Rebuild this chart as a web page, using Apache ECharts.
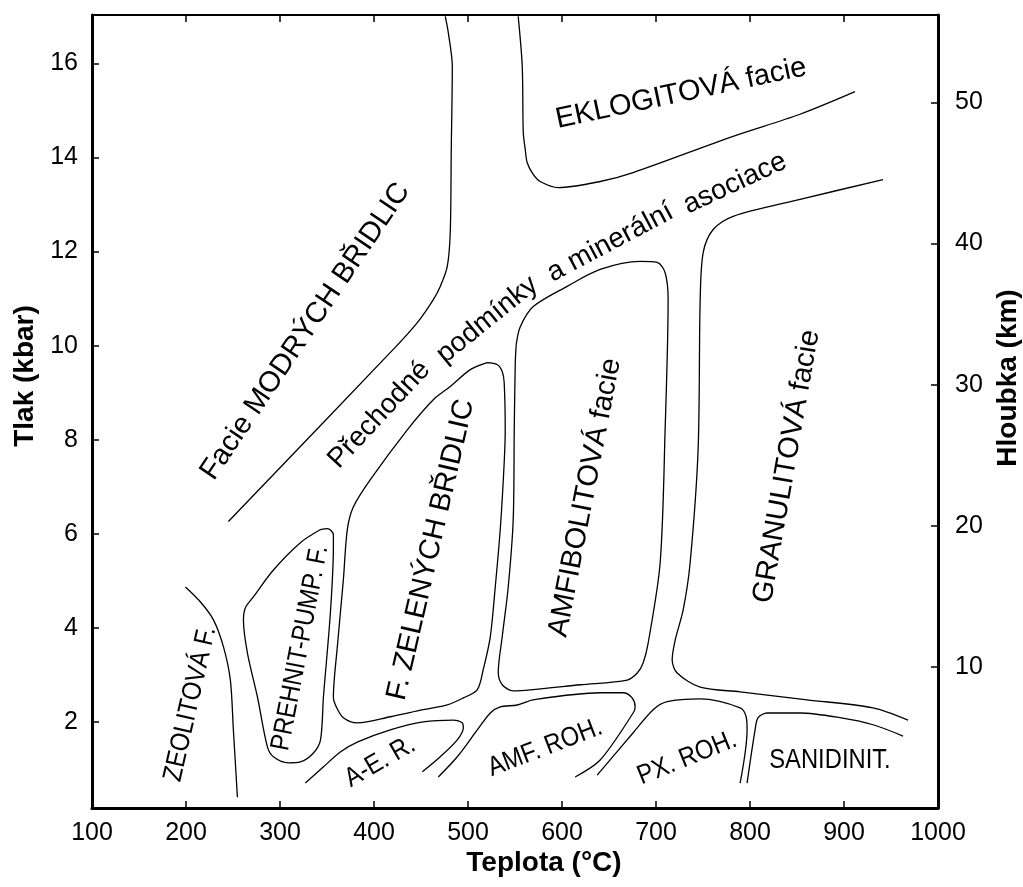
<!DOCTYPE html>
<html>
<head>
<meta charset="utf-8">
<script src="https://cdn.jsdelivr.net/npm/echarts@6/dist/echarts.min.js"></script>
<style>html,body{margin:0;padding:0;background:#fff}#chart{width:1023px;height:887px}</style>
</head>
<body>
<div id="chart"></div>
<script>
// ---- axis ticks ----
const tempTicks = [100, 200, 300, 400, 500, 600, 700, 800, 900, 1000];
const pressureTicks = [2, 4, 6, 8, 10, 12, 14, 16];
const depthTicks = [10, 20, 30, 40, 50];

// ---- facies boundaries: [temperature °C, pressure kbar] ----
const blueschistBoundary = [[475.8,17.0],[479.0,16.66],[483.3,15.94],[482.2,14.17],[481.1,12.40],[477.9,11.68],[470.5,11.26],[463.1,10.98],[446.1,10.49],[420.5,9.92],[245.1,6.26]];
const eclogiteBoundary = [[553.4,17.0],[557.7,15.94],[558.8,14.53],[560.9,14.17],[563.0,13.89],[569.4,13.64],[576.8,13.49],[596.0,13.36],[640.6,13.49],[675.7,13.68],[782.0,14.45],[853.2,14.92],[911.7,15.40]];
const granuliteBoundary = [[941.5,13.53],[853.3,13.11],[782.1,12.75],[760.8,12.47],[750.2,11.98],[747.0,10.98],[744.8,7.79],[736.3,5.38],[728.9,4.38],[720.4,3.74],[717.2,3.32],[722.5,3.04],[747.0,2.74],[789.5,2.64],[860.7,2.47],[930.9,2.30],[968.1,2.04]];
const amphiboliteField = [[551.3,10.02],[550.3,9.64],[549.2,8.21],[548.1,6.30],[542.8,4.87],[536.4,3.81],[532.2,3.06],[536.4,2.79],[548.1,2.66],[566.2,2.68],[619.4,2.79],[669.3,2.89],[680.0,3.04],[686.4,3.26],[691.7,3.68],[704.4,5.38],[709.7,8.21],[712.9,10.98],[709.7,11.55],[701.2,11.77],[683.1,11.79],[640.6,11.62],[605.5,11.26],[569.4,10.83],[555.6,10.40],[551.3,10.02]];
const greenschistField = [[520.3,9.64],[530.9,9.60],[536.4,9.45],[538.5,9.21],[539.6,8.21],[538.5,7.51],[534.3,6.09],[529.0,4.87],[523.7,3.81],[516.2,3.11],[509.8,2.68],[495.0,2.51],[478.0,2.36],[452.4,2.26],[417.4,2.11],[382.3,1.98],[367.4,2.09],[359.9,2.32],[356.8,2.53],[361.0,3.60],[367.4,5.02],[371.6,6.09],[378.0,6.57],[396.1,7.15],[435.4,8.21],[463.1,8.85],[481.1,9.13],[502.4,9.49],[520.3,9.64]];
const prehnitePumpellyiteField = [[343.1,6.09],[350.5,6.11],[356.8,5.98],[356.8,5.72],[353.6,4.32],[346.2,2.53],[343.1,1.62],[335.6,1.34],[321.7,1.15],[308.9,1.13],[293.0,1.26],[286.6,1.47],[276.0,2.53],[265.3,3.47],[261.1,4.17],[263.2,4.43],[271.7,4.66],[293.0,5.23],[321.7,5.81],[343.1,6.09]];
const zeoliteBoundary = [[199.4,4.87],[215.4,4.55],[229.2,4.17],[239.8,3.60],[247.2,2.89],[250.4,1.83],[254.7,0.40]];
const albiteEpidoteHornfels = [[326.9,0.70],[346.0,1.04],[364.1,1.36],[382.2,1.57],[417.3,1.83],[452.4,2.00],[484.3,2.04],[493.9,1.98],[495.0,1.87],[488.6,1.62],[470.5,1.26],[451.4,0.94]];
const hornblendeHornfels = [[468.4,0.83],[488.6,1.26],[509.9,1.83],[523.7,2.19],[534.3,2.32],[552.4,2.36],[569.4,2.47],[640.6,2.62],[665.1,2.62],[674.6,2.51],[677.8,2.32],[675.7,2.19],[640.6,1.19],[614.0,0.83]];
const pyroxeneHornfels = [[637.4,0.87],[675.7,1.77],[697.0,2.26],[711.9,2.43],[747.0,2.49],[789.5,2.30],[795.9,2.11],[796.9,1.83],[789.5,0.70]];
const sanidiniteField = [[796.9,0.70],[805.4,1.83],[808.6,2.09],[818.2,2.19],[853.3,2.19],[895.8,2.09],[930.9,1.94],[962.8,1.70]];

const curves = [blueschistBoundary, eclogiteBoundary, granuliteBoundary, amphiboliteField, greenschistField,
  prehnitePumpellyiteField, zeoliteBoundary, albiteEpidoteHornfels, hornblendeHornfels, pyroxeneHornfels, sanidiniteField];

// ---- facies names ----
const faciesNames = ['Facie MODRÝCH BŘIDLIC', 'Přechodné', 'podmínky', 'a minerální', 'asociace', 'EKLOGITOVÁ facie',
  'F. ZELENÝCH BŘIDLIC', 'AMFIBOLITOVÁ facie', 'GRANULITOVÁ facie', 'ZEOLITOVÁ F.', 'PREHNIT-PUMP. F.',
  'A-E. R.', 'AMF. ROH.', 'PX. ROH.', 'SANIDINIT.'];
// label anchors: [°C, kbar, text angle]
const labelAnchors = [[327,10.30,56],[405.7,8.53,47],[520.5,10.55,39],[651.3,12.19,28],[784.0,13.45,25],[726.7,15.36,12],
  [460.8,5.66,77],[624.7,6.77,79],[839.2,7.43,80],[204.7,2.38,77],[321.7,3.57,79],
  [406.6,1.15,30],[582.1,1.45,21],[733.1,1.23,22],[885.1,1.17,0]];
// 0 = large facies label, 1 = curved transitional words, 2 = small label
const labelClass = [0,1,1,1,1,0,0,0,0,2,2,2,2,2,2];

const baseFont = "'Liberation Sans', Arial, sans-serif";
const labelLook = [
  {font: "29px " + baseFont, scaleX: 1},
  {font: "28px " + baseFont, scaleX: 1},
  {font: "27px " + baseFont, scaleX: 0.88}
];

const chart = echarts.init(document.getElementById('chart'), null, {renderer: 'canvas'});

const series = curves.map(c => ({
  type: 'line', data: c, xAxisIndex: 0, yAxisIndex: 0,
  smooth: 0.3, symbol: 'none', silent: true,
  lineStyle: {color: '#000', width: 1.3}
}));
series.push({
  type: 'custom', xAxisIndex: 0, yAxisIndex: 0, silent: true,
  data: labelAnchors,
  encode: {x: 0, y: 1},
  renderItem: function (params, api) {
    const i = params.dataIndex;
    const pt = api.coord([api.value(0), api.value(1)]);
    const look = labelLook[labelClass[i]];
    return {
      type: 'text', x: pt[0], y: pt[1],
      rotation: api.value(2) * Math.PI / 180,
      scaleX: look.scaleX,
      style: {text: faciesNames[i], font: look.font, fill: '#000',
        align: 'center', verticalAlign: 'middle', textAlign: 'center', textVerticalAlign: 'middle'}
    };
  }
});

const tickStyle = {inside: true, length: 7, lineStyle: {color: '#000', width: 1.5}};
const titleFont = "bold 28px " + baseFont;

chart.setOption({
  animation: false,
  backgroundColor: '#fff',
  grid: {left: 92, right: 85, top: 15, bottom: 79, containLabel: false, outerBoundsMode: 'none'},
  graphic: [
    {type: 'text', x: 544, y: 863, style: {text: 'Teplota (°C)', font: titleFont, fill: '#000', align: 'center', verticalAlign: 'middle', textAlign: 'center', textVerticalAlign: 'middle'}},
    {type: 'text', x: 25, y: 376, rotation: Math.PI / 2, style: {text: 'Tlak (kbar)', font: titleFont, fill: '#000', align: 'center', verticalAlign: 'middle', textAlign: 'center', textVerticalAlign: 'middle'}},
    {type: 'text', x: 1008, y: 378, rotation: Math.PI / 2, style: {text: 'Hloubka (km)', font: titleFont, fill: '#000', align: 'center', verticalAlign: 'middle', textAlign: 'center', textVerticalAlign: 'middle'}}
  ],
  xAxis: [{
    type: 'value', min: 100, max: 1000, interval: 100, position: 'bottom',
    axisLine: {onZero: false, lineStyle: {color: '#000', width: 3}},
    axisTick: {...tickStyle, customValues: tempTicks.slice(1, -1)},
    axisLabel: {customValues: tempTicks, formatter: v => String(v), margin: 13, fontFamily: baseFont, fontSize: 25, color: '#000'},
    splitLine: {show: false}
  }, {
    type: 'value', min: 100, max: 1000, interval: 100, position: 'top',
    axisLine: {onZero: false, lineStyle: {color: '#000', width: 2}},
    axisTick: {...tickStyle, customValues: tempTicks.slice(1, -1)},
    axisLabel: {show: false}, splitLine: {show: false}
  }],
  yAxis: [{
    type: 'value', min: 0.17, max: 17.03, position: 'left',
    axisLine: {onZero: false, lineStyle: {color: '#000', width: 3}},
    axisTick: {...tickStyle, customValues: pressureTicks},
    axisLabel: {customValues: pressureTicks, formatter: v => String(v), margin: 14, fontFamily: baseFont, fontSize: 25, color: '#000'},
    splitLine: {show: false}
  }, {
    type: 'value', min: 0, max: 56.2, position: 'right',
    axisLine: {onZero: false, lineStyle: {color: '#000', width: 3}},
    axisTick: {...tickStyle, customValues: depthTicks},
    axisLabel: {customValues: depthTicks, formatter: v => String(v), margin: 17, fontFamily: baseFont, fontSize: 25, color: '#000'},
    splitLine: {show: false}
  }],
  series: series
});
</script>
</body>
</html>
